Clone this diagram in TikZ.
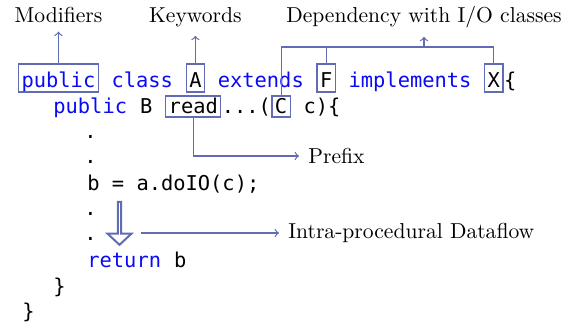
\documentclass[tikz,border=0pt]{standalone}
\usepackage{fontspec}
\setmonofont{DejaVu Sans Mono}
\usepackage{tikz}
\usetikzlibrary{positioning, calc, shapes.arrows}
\definecolor{linkblue}{RGB}{98,108,178}
\definecolor{kwblue}{RGB}{10,10,245}

\begin{document}
\begin{tikzpicture}[
    x=0.5pt, y=-0.5pt,
    codetxt/.style={
        inner sep=0pt,
        anchor=base west,
        font=\fontsize{10.2}{12}\selectfont\ttfamily
    },
    kw/.style={codetxt, text=kwblue},
    tagbox/.style={
        codetxt,
        draw=linkblue,
        line width=0.6pt,
        inner xsep=1.5pt,
        inner ysep=1pt,
        text height=10.5pt,
        text depth=1.5pt
    },
    smallbox/.style={tagbox, text height=7.5pt, text depth=1pt},
    note/.style={font=\fontsize{10.8}{13}\selectfont, inner sep=3.5pt},
    conn/.style={draw=linkblue, line width=0.6pt},
    connarrow/.style={conn, ->, shorten >=1pt}
]
\useasboundingbox (0,0) rectangle (574,328);

% class header
\node[tagbox, text=kwblue] (pub) at (18,87) {public};
\node[kw] (l1a) at (pub.base east) {~class~\mbox{}};
\node[tagbox] (A) at (l1a.base east) {A};
\node[kw] (l1b) at (A.base east) {~extends~\mbox{}};
\node[tagbox] (F) at (l1b.base east) {F};
\node[kw] (l1c) at (F.base east) {~implements~\mbox{}};
\node[tagbox] (X) at (l1c.base east) {X};
\node[codetxt] (l1d) at (X.base east) {\{};

% method
\node[kw] (l2a) at (53,113) {public};
\node[codetxt] (l2b) at (l2a.base east) {~B~\mbox{}};
\node[smallbox] (read) at (l2b.base east) {read};
\node[codetxt] (l2c) at (read.base east) {...(};
\node[smallbox] (C) at (l2c.base east) {C};
\node[codetxt] (l2d) at (C.base east) {~c)\{};

% body
\node[codetxt] (dot1) at (84,138) {.};
\node[codetxt] (dot2) at (84,163) {.};
\node[codetxt] (call) at (87,190) {b = a.doIO(c);};
\node[codetxt] (dot3) at (84,215) {.};
\node[codetxt] (dot4) at (84,240) {.};
\node[kw] (ret) at (87,267) {return};
\node[codetxt] (retv) at (ret.base east) {~b};
\node[codetxt] (close1) at (53,293) {\}};
\node[codetxt] (close2) at (22,318) {\}};

% labels
\node[note, anchor=base] (mod) at (pub.north |- 0,22) {Modifiers};
\node[note, anchor=base] (keyw) at (A.north |- 0,22) {Keywords};
\node[note, anchor=base] (dep) at (424,22) {Dependency with I/O classes};
\node[note, anchor=west] (prefix) at (301,156) {Prefix};
\node[note, anchor=west] (dataflow) at (281,233) {Intra-procedural Dataflow};

\node[single arrow, draw=linkblue, line width=1pt, shape border rotate=270,
      minimum height=21.5pt, minimum width=12pt, single arrow head extend=3pt,
      single arrow tip angle=94, inner sep=0pt] (flow) at (119.5,222.5) {};

\draw[connarrow] (pub) -- (mod);
\draw[connarrow] (A) -- (keyw);
\coordinate (bar) at (0,47);
\draw[conn] (C.north) -- (C.north |- bar) -- (X.north |- bar) -- (X.north);
\draw[conn] (F.north) -- (F.north |- bar);
\draw[connarrow] (dep.south |- bar) -- (dep);
\draw[connarrow] (read.south) |- (prefix.west);
\coordinate (flowtail) at (141,233);
\draw[connarrow] (flowtail) -- (dataflow.west);

\end{tikzpicture}
\end{document}
